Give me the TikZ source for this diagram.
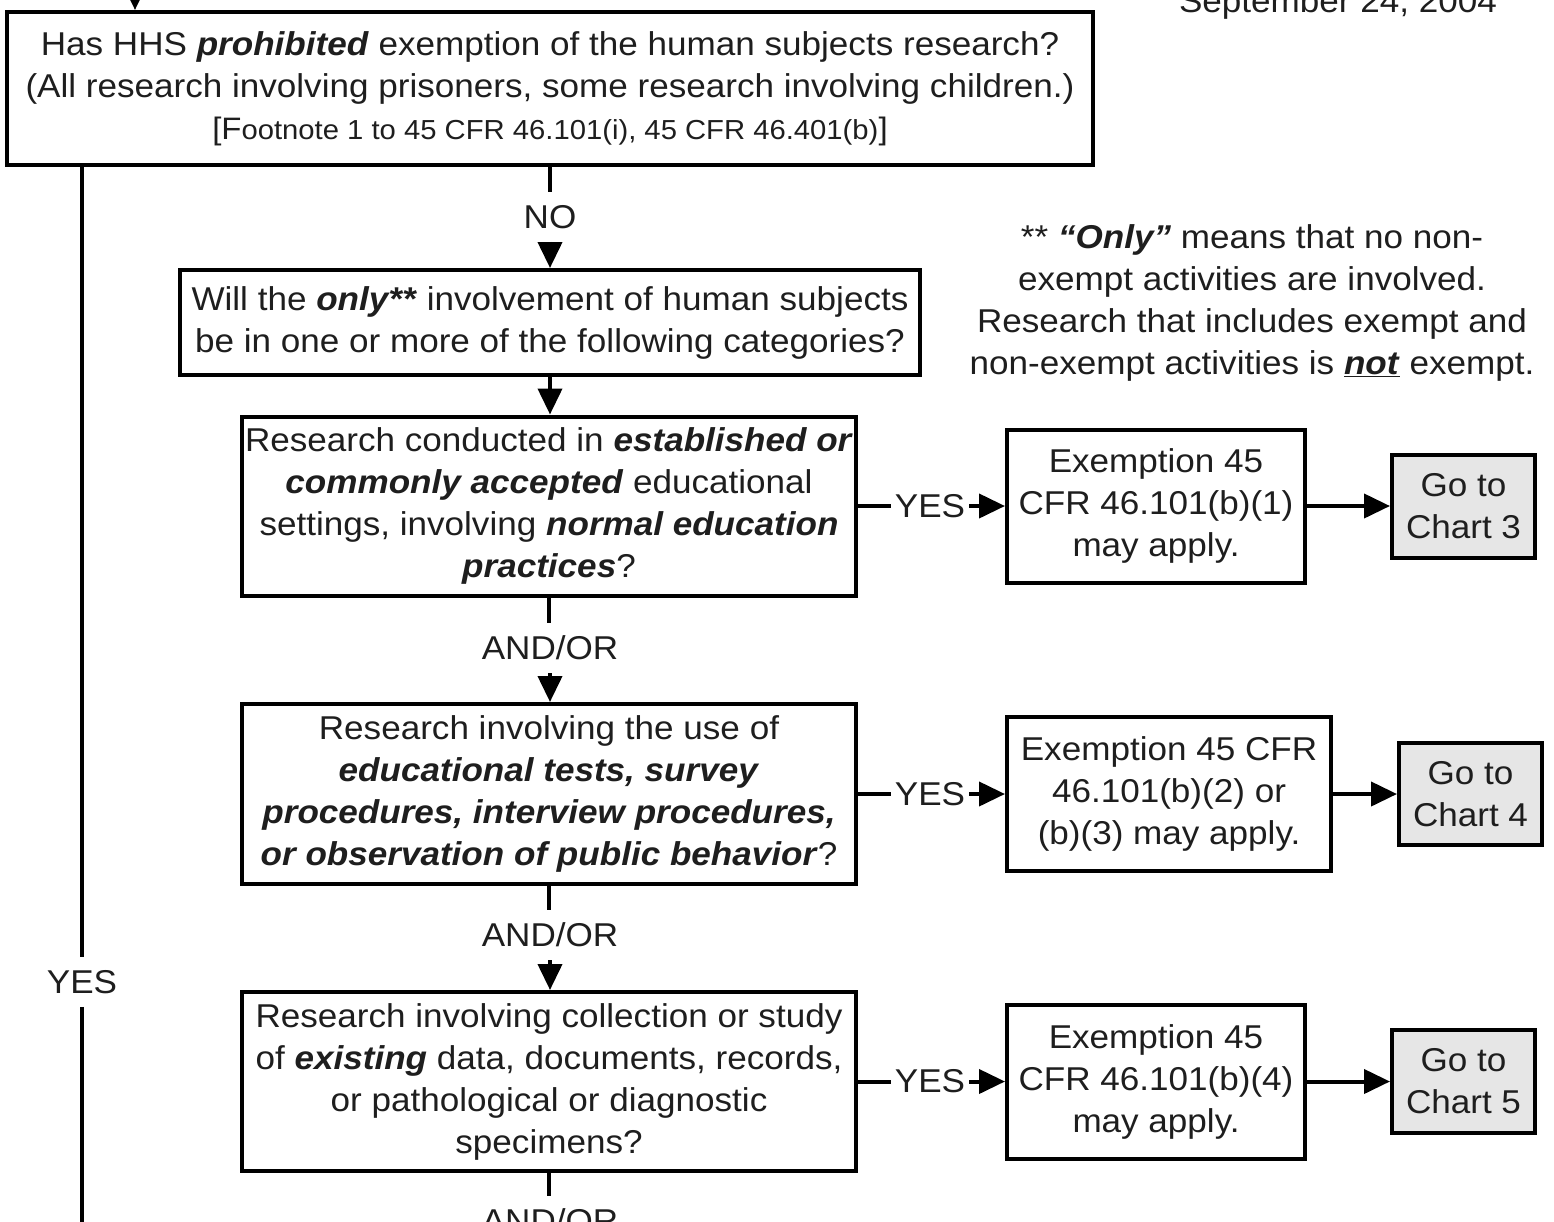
\documentclass[tikz,border=0pt]{standalone}
\usepackage{fontspec}
\setmainfont{Liberation Sans}[FakeStretch=1.063]
\usetikzlibrary{arrows.meta}
\definecolor{txt}{HTML}{1E1E1E}
\definecolor{gofill}{HTML}{E6E6E6}
\newcommand{\bi}[1]{\textbf{\textit{#1}}}
\tikzset{
  main/.style={font=\fontsize{33}{42}\selectfont, text=txt},
  box/.style={main, draw=black, line width=4pt, align=center, inner sep=0pt},
  gobox/.style={box, fill=gofill},
  lbl/.style={main, inner xsep=4pt, inner ysep=13pt},
  conn/.style={line width=4pt, draw=black},
  arr/.style={conn, -{Triangle[length=26pt,width=24pt]}},
}
\begin{document}
\begin{tikzpicture}[x=1pt,y=-1pt]
\clip (0,0) rectangle (1554,1221);
\fill[white] (0,0) rectangle (1554,1221);

% date (cut off at top)
\node[main, anchor=base] (date) at (1338,12) {September 24, 2004};

% boxes
\node[box, minimum width=1086pt, minimum height=153pt] (top) at (550,88.5)
 {Has HHS \bi{prohibited} exemption of the human subjects research?\\
  (All research involving prisoners, some research involving children.)\\
  {\fontsize{31}{42}\selectfont[F}{\fontsize{27.5}{42}\selectfont ootnote 1 to 45 CFR 46.101(i), 45 CFR 46.401(b)}{\fontsize{31}{42}\selectfont]}};

\node[box, minimum width=740pt, minimum height=105pt] (q2) at (550,322.5)
 {Will the \bi{only**} involvement of human subjects\\
  be in one or more of the following categories?};

\node[box, minimum width=614pt, minimum height=179pt] (b3) at (549,506)
 {Research conducted in \bi{established or}\\
  \bi{commonly accepted} educational\\
  settings, involving \bi{normal education}\\
  \bi{practices}?};

\node[box, minimum width=614pt, minimum height=180pt] (b4) at (549,794)
 {Research involving the use of\\
  \bi{educational tests, survey}\\
  \bi{procedures, interview procedures,}\\
  \bi{or observation of public behavior}?};

\node[box, minimum width=614pt, minimum height=179pt] (b5) at (549,1081.5)
 {Research involving collection or study\\
  of \bi{existing} data, documents, records,\\
  or pathological or diagnostic\\
  specimens?};

\node[box, minimum width=298pt, minimum height=153pt] (eA) at (1156,506)
 {Exemption 45\\ CFR 46.101(b)(1)\\ may apply.};
\node[box, minimum width=324pt, minimum height=154pt] (eB) at (1169,794)
 {Exemption 45 CFR\\ 46.101(b)(2) or\\ (b)(3) may apply.};
\node[box, minimum width=298pt, minimum height=154pt] (eC) at (1156,1081.5)
 {Exemption 45\\ CFR 46.101(b)(4)\\ may apply.};

\node[gobox, minimum width=143pt, minimum height=103pt] (gA) at (1463.5,506) {Go to\\ Chart 3};
\node[gobox, minimum width=143pt, minimum height=102pt] (gB) at (1470.5,794) {Go to\\ Chart 4};
\node[gobox, minimum width=143pt, minimum height=103pt] (gC) at (1463.5,1081.5) {Go to\\ Chart 5};

% note
\node[main, align=center] (note) at (1252,302.5)
 {** \bi{“Only”} means that no non-\\
  exempt activities are involved.\\
  Research that includes exempt and\\
  non-exempt activities is \underline{\bi{not}} exempt.};

% labels
\node[lbl] (no) at (550,217) {NO};
\node[lbl] (ao1) at (550,648) {AND/OR};
\node[lbl] (ao2) at (550,935) {AND/OR};
\node[lbl] (ao3) at (550,1221) {AND/OR};
\node[lbl] (yes0) at (82,982) {YES};
\node[lbl] (y1) at (930,506) {YES};
\node[lbl] (y2) at (930,794) {YES};
\node[lbl] (y3) at (930,1081.5) {YES};

\coordinate (topin) at (135,-30);
\coordinate (leftend) at (82,1300);
\coordinate (botend) at (550,1300);

% connectors
\draw[arr] (topin) -- (topin |- top.north);
\draw[conn] (top.south -| yes0) -- (yes0);
\draw[conn] (yes0) -- (leftend);
\draw[conn] (top.south) -- (no);
\draw[arr] (no) -- (q2.north);
\draw[arr] (q2.south) -- (q2.south |- b3.north);
\draw[conn] (b3.south) -- (b3.south |- ao1.north);
\draw[arr] (ao1) -- (ao1 |- b4.north);
\draw[conn] (b4.south) -- (b4.south |- ao2.north);
\draw[arr] (ao2) -- (ao2 |- b5.north);
\draw[conn] (b5.south) -- (b5.south |- ao3.north);
\draw[conn] (ao3) -- (botend);

\draw[conn] (b3.east) -- (y1);
\draw[arr] (y1) -- (eA.west);
\draw[conn] (b4.east) -- (y2);
\draw[arr] (y2) -- (eB.west);
\draw[conn] (b5.east) -- (y3);
\draw[arr] (y3) -- (eC.west);

\draw[arr] (eA.east) -- (gA.west);
\draw[arr] (eB.east) -- (gB.west);
\draw[arr] (eC.east) -- (gC.west);
\end{tikzpicture}
\end{document}
